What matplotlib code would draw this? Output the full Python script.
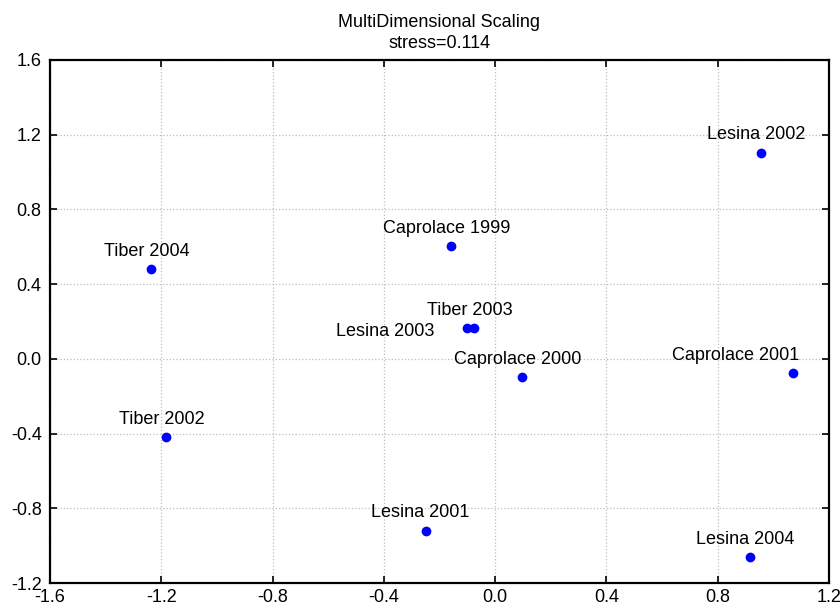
import matplotlib
matplotlib.use('Agg')
import matplotlib.pyplot as plt
import numpy as np

plt.rcParams['font.family'] = ['Liberation Sans', 'DejaVu Sans']

names = ['Tiber 2004', 'Tiber 2002', 'Caprolace 1999', 'Lesina 2003', 'Tiber 2003',
         'Caprolace 2000', 'Lesina 2002', 'Caprolace 2001', 'Lesina 2001', 'Lesina 2004']
dim1 = [-1.236, -1.182, -0.159, -0.102, -0.077, 0.096, 0.954, 1.069, -0.248, 0.915]
dim2 = [0.479, -0.420, 0.602, 0.163, 0.163, -0.099, 1.104, -0.078, -0.922, -1.061]
stress = 0.114

xticks = [-1.6, -1.2, -0.8, -0.4, 0.0, 0.4, 0.8, 1.2]
yticks = [-1.2, -0.8, -0.4, 0.0, 0.4, 0.8, 1.2, 1.6]

# label placement (offset in points, alignment); default is centered above the dot
default_pos = (-3, 9.5, 'center', 'baseline')
label_pos = {
    'Caprolace 2001': (-41, 9.5, 'center', 'baseline'),
    'Lesina 2003': (-23, -2, 'right', 'center'),
    'Lesina 2001': (-4, 10, 'center', 'baseline'),
    'Lesina 2002': (-3, 10, 'center', 'baseline'),
}

fig = plt.figure(figsize=(8.4, 6.06), dpi=100)
ax = fig.add_axes([50 / 840, 1 - 583 / 606, 779 / 840, 523 / 606])

ax.plot(dim1, dim2, 'o', color='#0000ff', markersize=6, zorder=3)

for name, px, py in zip(names, dim1, dim2):
    dx, dy, ha, va = label_pos.get(name, default_pos)
    ax.annotate(name, (px, py), xytext=(dx, dy), textcoords='offset points',
                ha=ha, va=va, fontsize=13, color='black')

ax.set_xlim(-1.6, 1.2)
ax.set_ylim(-1.2, 1.6)
ax.set_xticks(xticks)
ax.set_yticks(yticks)
ax.set_xticklabels(['%.1f' % v for v in xticks])
ax.set_yticklabels(['%.1f' % v for v in yticks])
ax.tick_params(direction='in', length=5, width=1.2, top=True, right=True,
               labelsize=13)
ax.tick_params(axis='y', pad=6)
ax.tick_params(axis='x', pad=4)
ax.grid(True, linestyle=':', color='#bdbdbd', linewidth=0.9)
for s in ax.spines.values():
    s.set_linewidth(1.6)

ax.set_title('MultiDimensional Scaling\nstress=%.3f' % stress, fontsize=13, pad=9,
             linespacing=1.25)

fig.savefig('out.png', dpi=100)
